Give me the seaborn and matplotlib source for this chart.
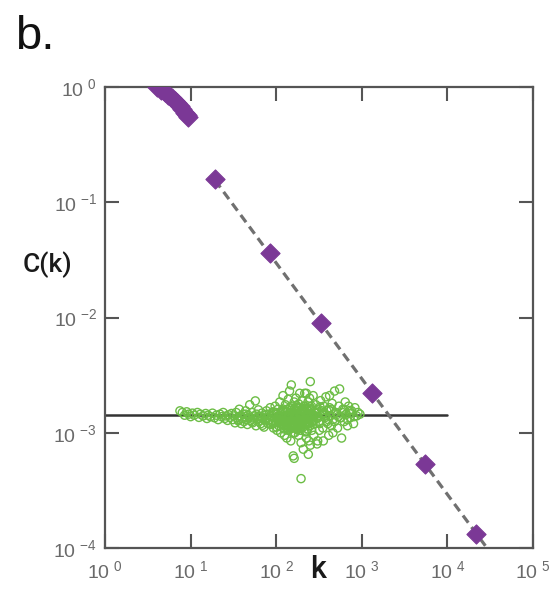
import numpy as np
import pandas as pd
import matplotlib
matplotlib.use("Agg")
import matplotlib.pyplot as plt
import seaborn as sns

# purple diamonds: dense start (k = 4..9) then log-spaced points
deg_k = [4, 4.5, 5, 5.5, 6, 6.5, 7, 7.5, 8, 8.5, 9, 9.3, 19.3, 85, 333, 1318, 5470, 21600]
deg_C = [1.0, 0.95, 0.9, 0.85, 0.8, 0.76, 0.72, 0.68, 0.64, 0.6, 0.57, 0.55,
         0.16, 0.036, 0.0089, 0.0022, 0.00054, 0.000132]

# dashed power-law guide (slope -1)
fit_k = [19.3, 29000]
fit_C = [0.155, 0.0001]

# horizontal reference line
flat_k = [1, 10000]
flat_C = [0.00143, 0.00143]

# green open circles (random-network reference), values x1e-3
rand_k = [7.5, 8, 8.5, 9, 9.5, 10, 10.5, 11, 12, 12.5, 13, 14, 15, 15.5, 16, 17, 18, 19, 20, 21,
          22, 23, 24, 25, 26, 27, 28, 29, 30, 31,
          32, 33, 34, 35, 36, 37, 38, 39, 40, 41, 42, 43, 44, 45, 46, 47, 48, 49, 50, 52,
          53, 55, 56, 57, 58, 59, 60, 62, 63, 65, 66, 68, 70, 72, 73, 75, 77, 78, 80,
          82, 84, 85, 87, 88, 90, 92, 93, 95, 97, 98, 100, 102, 104, 105, 107, 108, 110, 112, 113,
          115, 117, 118, 120, 122, 123, 125, 127, 128, 130, 132, 133, 135, 137, 138, 140, 142, 143,
          145, 147, 148, 150, 152, 153, 155, 157, 158, 160, 162, 162, 163, 165, 167, 168, 170, 172,
          175, 177, 178, 180, 182, 183, 185, 187, 188, 190, 192, 193, 195, 195, 197, 198, 200, 203,
          205, 207, 210, 212, 215, 217, 220, 222, 225, 225, 228, 230, 233, 235, 237, 238, 240, 243,
          245, 248, 250, 250, 253, 255, 258, 260, 265, 270, 275, 280, 285, 290, 295, 300, 305,
          310, 320, 330, 340, 350, 355, 360, 370, 380, 390, 400, 410, 420, 420, 430, 440, 450, 460,
          460, 480, 500, 520, 540, 550, 560, 580, 600, 620, 640, 660, 680, 700, 730, 760, 800,
          830, 870, 900, 950,
          110, 118, 126, 134, 141, 149, 156, 164, 171, 179, 186, 194, 202, 211, 219, 228, 236,
          115, 124, 132, 140, 148, 157, 166, 174, 183, 192, 201, 209, 218, 232, 246, 262, 280,
          36, 44, 52, 61, 69, 76, 83, 91, 99, 106, 121, 136, 151, 166, 181, 196, 213, 231, 252,
          270, 295, 320, 345, 375, 405, 440, 480, 520, 570, 620, 680, 740, 810,
          120, 131, 145, 159, 173, 189, 207, 226, 247, 268, 292, 318, 352, 390,
          92, 101, 109, 116, 123, 129, 136, 143, 151, 159, 167, 176, 185, 195, 206, 218, 230,
          243, 257, 272, 288, 305, 94, 103, 112, 121, 130, 139, 147, 155, 163, 172, 181, 191,
          204, 216, 229, 241, 255, 276, 298, 325, 360, 410, 470, 530, 590, 650, 720]
rand_C = [1.55, 1.5, 1.42, 1.52, 1.45, 1.38, 1.48, 1.42, 1.5, 1.36, 1.45, 1.4, 1.47, 1.33, 1.42,
          1.38, 1.48, 1.35, 1.42, 1.3, 1.45, 1.38, 1.5, 1.33, 1.4, 1.28, 1.43, 1.36, 1.47, 1.3,
          1.4, 1.22, 1.5, 1.35, 1.27, 1.6, 1.4, 1.2, 1.33, 1.45, 1.25, 1.38, 1.55, 1.3, 1.18,
          1.42, 1.35, 1.75, 1.28, 1.5, 1.22, 1.4, 1.33, 1.89, 1.15, 1.45, 1.3, 1.58, 1.25, 1.38,
          1.2, 1.48, 1.32, 1.12, 1.42, 1.27, 1.55, 1.35, 1.2,
          1.45, 1.3, 1.65, 1.18, 1.4, 1.25, 1.52, 1.1, 1.35, 1.7, 1.22, 1.45, 1.05, 1.3, 1.6,
          1.15, 1.4, 1.85, 1.25, 1.0, 1.5, 1.2, 1.35, 2.1, 1.1, 1.55, 0.95, 1.3, 1.75, 1.15,
          1.42, 0.9, 1.6, 1.22, 1.95, 1.05, 1.38, 2.3, 1.18, 1.5, 0.85, 2.6, 1.28, 1.7, 1.1,
          1.45, 0.63, 1.2, 0.6, 1.85, 1.32, 1.0, 1.55, 1.15, 2.0, 1.38, 1.25, 1.65, 1.08, 1.45,
          0.95, 1.78, 1.3, 1.18, 2.2, 1.5, 1.05, 1.35, 0.82, 0.4, 1.6, 1.22, 1.9, 1.4, 1.12,
          0.72, 1.7, 1.3, 2.2, 1.02, 1.5, 1.2, 0.9, 2.2, 1.62, 1.35, 1.08, 1.85, 0.65, 1.25,
          0.85, 1.45, 2.0, 1.15, 2.78, 0.78, 1.55, 1.3, 1.7, 1.05, 1.4, 2.1, 0.95, 1.5, 1.2,
          1.75, 1.35, 0.8, 0.85, 1.6, 1.25, 1.9, 1.45, 1.1, 0.85, 1.7, 1.35, 2.05, 1.55, 1.2,
          0.95, 1.65, 2.1, 1.4, 1.15, 1.8, 1.3, 1.0, 2.3, 1.5, 1.1, 1.7, 2.4, 1.35, 0.9, 1.6,
          1.25, 1.85, 1.45, 1.15, 1.7, 1.35, 1.55, 1.2, 1.65, 1.4, 1.5, 1.45,
          1.3, 1.2, 1.4, 1.25, 1.35, 1.15, 1.3, 1.22, 1.45, 1.28, 1.18, 1.38, 1.25, 1.4, 1.3,
          1.2, 1.35,
          1.4, 1.28, 1.18, 1.33, 1.22, 1.42, 1.27, 1.12, 1.36, 1.24, 1.46, 1.3, 1.2, 1.38, 1.32,
          1.26, 1.4,
          1.3, 1.45, 1.25, 1.38, 1.16, 1.44, 1.3, 1.2, 1.5, 1.35, 1.6, 1.08, 1.5, 1.26, 1.62,
          1.12, 1.52, 1.36, 1.6, 1.28, 1.48, 1.2, 1.55, 1.42, 1.3, 1.6, 1.25, 1.45, 1.35, 1.58,
          1.3, 1.48, 1.38,
          1.55, 1.1, 1.65, 1.0, 1.72, 1.12, 1.58, 1.02, 1.68, 1.18, 1.5, 1.05, 1.45, 1.25,
          1.22, 1.12, 1.28, 1.18, 1.08, 1.24, 1.14, 1.32, 1.1, 1.2, 1.3, 1.06, 1.16, 1.26, 1.12,
          1.36, 1.22, 1.3, 1.42, 1.26, 1.48, 1.34, 1.5, 1.36, 1.46, 1.32, 1.52, 1.4, 1.56, 1.44,
          1.62, 1.48, 1.66, 1.54, 1.58, 1.7, 1.6, 1.52, 1.62, 1.42, 1.55, 1.68, 1.5, 1.58, 1.46,
          1.38, 1.5, 1.44, 1.56]

x_ticks = [1, 10, 100, 1000, 10000, 100000]
x_labels = ["10$^{\\ 0}$", "10$^{\\ 1}$", "10$^{\\ 2}$", "10$^{\\ 3}$", "10$^{\\ 4}$", "10$^{\\ 5}$"]
y_ticks = [1e-4, 1e-3, 1e-2, 1e-1, 1]
y_labels = ["10$^{\\ {-}4}$", "10$^{\\ {-}3}$", "10$^{\\ {-}2}$", "10$^{\\ {-}1}$", "10$^{\\ 0}$"]

sns.set_style("ticks")
plt.rcParams["font.family"] = ["Liberation Sans", "DejaVu Sans"]
plt.rcParams["mathtext.default"] = "regular"

purple = "#7b3896"
green = "#6cbd45"
frame = "#555555"

rand_df = pd.DataFrame({"k": rand_k, "C": np.array(rand_C) * 1e-3})
deg_df = pd.DataFrame({"k": deg_k, "C": deg_C})

fig = plt.figure(figsize=(5.51, 5.92), dpi=100)
ax = fig.add_axes([0.1906, 0.0743, 0.7768, 0.7787])

sns.lineplot(x=flat_k, y=flat_C, ax=ax, color="#333333", lw=1.8, zorder=2)
sns.scatterplot(data=rand_df, x="k", y="C", ax=ax, marker="o", s=34,
                facecolors="none", edgecolor=green, linewidth=1.0, zorder=3)
sns.lineplot(x=fit_k, y=fit_C, ax=ax, color="#707070", lw=2.3,
             linestyle=(0, (2.8, 1.7)), zorder=4)
sns.scatterplot(data=deg_df, x="k", y="C", ax=ax, marker="D", s=95,
                color=purple, edgecolor=purple, linewidth=0.8, zorder=5)

ax.set_xscale("log")
ax.set_yscale("log")
ax.set_xlim(1, 1e5)
ax.set_ylim(1e-4, 1)
ax.set_xticks(x_ticks)
ax.set_xticklabels(x_labels)
ax.set_yticks(y_ticks)
ax.set_yticklabels(y_labels)
ax.minorticks_off()
ax.set_xlabel("")
ax.set_ylabel("")

ax.tick_params(which="major", direction="in", top=True, right=True, length=10, width=1.5,
               color=frame, labelcolor="#6a6a6a", labelsize=14)
ax.tick_params(axis="x", pad=9)
ax.tick_params(axis="y", pad=6)
for sp in ax.spines.values():
    sp.set_color(frame)
    sp.set_linewidth(1.6)

fig.text(47 / 551, 1 - 265 / 592, "C(k)", fontsize=19, fontweight="medium", family="Roboto",
         ha="center", va="center", color="#1a1a1a")
fig.text(318 / 551, 1 - 570 / 592, "k", fontsize=22, fontweight="medium", family="Roboto",
         ha="center", va="center", color="#1a1a1a")
fig.text(15 / 551, 1 - 49 / 592, "b.", fontsize=34, ha="left", va="baseline", color="#111111")

fig.savefig("out.png", dpi=100)
